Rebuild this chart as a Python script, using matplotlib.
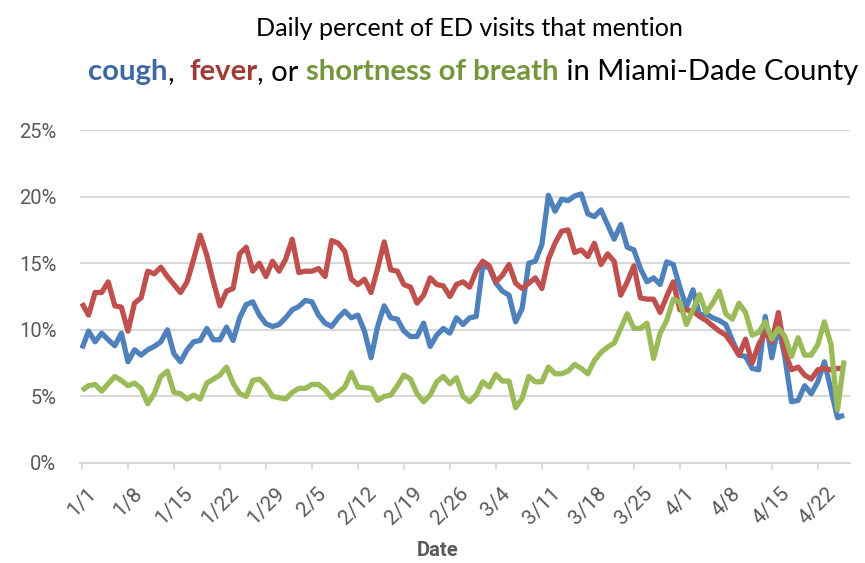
import matplotlib
matplotlib.use('Agg')
import matplotlib.pyplot as plt
import matplotlib.transforms as mtransforms

# ---- data (percent of ED visits), daily from 1/1 to 4/26 ----
cough = [8.6, 9.9, 9.1, 9.75, 9.25, 8.8, 9.75, 7.6, 8.5, 8.1, 8.5, 8.75, 9.1, 10.0, 8.2, 7.6, 8.5, 9.1, 9.2, 10.1,
         9.25, 9.25, 10.2, 9.2, 10.9, 11.9, 12.1, 11.1, 10.45,
         10.25, 10.4, 10.9, 11.5, 11.75, 12.2, 12.1, 11.1, 10.5, 10.25, 10.9, 11.4, 10.9, 11.1, 9.9, 7.9, 10.25,
         11.8, 10.9, 10.8, 9.9, 9.5, 9.5, 10.5, 8.75, 9.6, 10.1, 9.75, 10.9,
         10.4, 10.9, 11.0, 14.8, 14.65, 13.5, 12.9, 12.6, 10.6, 11.6, 15.0, 15.15, 16.4, 20.1, 18.9, 19.8, 19.7,
         20.05, 20.2, 18.7, 18.5, 19.0, 17.9, 16.8, 17.9, 16.2, 16.0,
         14.6, 13.6, 13.9, 13.4, 15.1, 14.9, 13.2, 11.7, 13.0, 11.1, 11.2, 10.9, 10.7, 10.4, 9.2, 8.1, 8.0, 7.1,
         7.0, 11.0, 7.9, 10.3, 7.9, 4.6, 4.7, 5.8, 5.2, 6.1, 7.6, 5.5, 3.4, 3.6]
fever = [12.0, 11.1, 12.8, 12.8, 13.6, 11.8, 11.7, 9.9, 12.0, 12.4, 14.4, 14.2, 14.7, 14.0, 13.4, 12.8, 13.6, 15.3,
         17.1, 15.6, 13.6, 11.8, 12.9, 13.1, 15.7, 16.2, 14.4, 15.0, 14.0,
         15.15, 14.4, 15.3, 16.8, 14.3, 14.4, 14.4, 14.6, 14.0, 16.7, 16.5, 15.9, 13.8, 13.4, 13.8, 12.8, 14.6,
         16.6, 14.5, 14.4, 13.4, 13.2, 12.0, 12.6, 13.9, 13.4, 13.3, 12.5, 13.4,
         13.6, 13.2, 14.4, 15.15, 14.8, 13.6, 14.1, 14.9, 13.5, 13.1, 13.5, 13.9, 13.1, 15.3, 16.5, 17.4, 17.5,
         15.8, 16.0, 15.5, 16.5, 14.9, 15.7, 15.15, 12.6, 13.6, 14.8, 12.4, 12.3,
         12.3, 11.3, 12.5, 13.6, 11.5, 11.5, 11.4, 11.0, 10.7, 10.3, 9.9, 9.6, 8.9, 8.1, 9.3, 7.5, 8.9, 9.8, 9.1,
         11.3, 8.3, 7.0, 7.2, 6.6, 6.3, 7.0, 7.1, 7.0, 7.1, 7.1]
breath = [5.45, 5.8, 5.9, 5.4, 5.95, 6.5, 6.2, 5.8, 6.0, 5.6, 4.45, 5.2, 6.5, 6.9, 5.3, 5.2, 4.8, 5.1, 4.8,
          6.0, 6.3, 6.6, 7.2, 6.0, 5.2, 5.0, 6.2, 6.3, 5.8, 5.0, 4.9, 4.8, 5.3, 5.6, 5.6, 5.9, 5.9, 5.5, 4.9,
          5.3, 5.7, 6.8, 5.7, 5.65, 5.6, 4.7, 5.0, 5.1, 5.8, 6.6, 6.3, 5.2, 4.6, 5.1, 6.1, 6.5, 5.95, 6.4,
          5.0, 4.6, 5.1, 6.1, 5.7, 6.65, 6.15, 6.15, 4.15, 4.85, 6.5, 6.1, 6.1, 7.2, 6.7, 6.7, 6.9, 7.4, 7.1, 6.7,
          7.7, 8.3, 8.7, 9.0, 10.1, 11.2, 10.1, 10.1, 10.5, 7.85, 9.75, 10.7, 12.3, 12.1, 10.4, 11.5, 12.65, 11.3,
          12.0, 12.9,
          11.2, 10.8, 12.0, 11.3, 9.6, 9.8, 10.6, 9.3, 10.1, 9.5, 8.0, 9.4, 8.1, 8.1, 8.9, 10.6, 8.9, 4.0, 7.7]

tick_labels = ['1/1', '1/8', '1/15', '1/22', '1/29', '2/5', '2/12', '2/19', '2/26',
               '3/4', '3/11', '3/18', '3/25', '4/1', '4/8', '4/15', '4/22']
y_ticks = [0, 5, 10, 15, 20, 25]

# ---- styling ----
C_BLUE, C_RED, C_GREEN = '#4f81bd', '#c0504d', '#9bbb59'
T_BLUE, T_RED, T_GREEN = '#3c68a3', '#a03a37', '#76963b'
GRAY_TXT = '#595959'
GRID = '#d9d9d9'
FONT = ['Roboto', 'DejaVu Sans']
TFONT = ['Lato', 'DejaVu Sans']

W, H = 865, 563
fig = plt.figure(figsize=(W / 100, H / 100), dpi=100)
ax = fig.add_axes([80 / W, 1 - 463 / H, (850 - 80) / W, (463 - 130) / H])

for series, col in ((cough, C_BLUE), (fever, C_RED), (breath, C_GREEN)):
    ax.plot(range(len(series)), series, color=col, lw=3.8, solid_joinstyle='round',
            solid_capstyle='butt', zorder=3)

ax.set_ylim(0, 25)
ax.set_xlim(-0.3, 116.9)
ax.set_yticks(y_ticks)
ax.set_yticklabels([f'{v}%' for v in y_ticks], fontsize=14.5, color=GRAY_TXT, family=FONT)
ax.yaxis.grid(True, color=GRID, lw=1.5, zorder=0)
ax.tick_params(axis='y', length=0, pad=17)

xt = [7 * i for i in range(len(tick_labels))]
ax.set_xticks(xt)
ax.set_xticklabels(tick_labels, rotation=45, ha='center', fontsize=15, color=GRAY_TXT, family=FONT)
offset = mtransforms.ScaledTranslation(-8 / 100, 0, fig.dpi_scale_trans)
for lab in ax.get_xticklabels():
    lab.set_transform(lab.get_transform() + offset)
ax.tick_params(axis='x', length=5, width=1.2, color=GRID, pad=10, direction='out')

for s in ('top', 'right', 'left'):
    ax.spines[s].set_visible(False)
ax.spines['bottom'].set_color(GRID)
ax.spines['bottom'].set_linewidth(1.5)
ax.set_axisbelow(True)

fig.text(438 / W, 1 - 551 / H, 'Date', ha='center', va='center', fontsize=14.5,
         fontweight='bold', color=GRAY_TXT, family=FONT)

# ---- title ----
fig.canvas.draw()
r = fig.canvas.get_renderer()

t1 = fig.text(469 / W, 1 - 28 / H, 'Daily percent of ED visits that mention', ha='center', va='center',
              fontsize=17, color='black', family=TFONT)
w1 = t1.get_window_extent(renderer=r).width
t1.set_fontsize(17 * 428 / w1)

pieces = [('cough', T_BLUE, 'bold'), (',  ', 'black', 'normal'), ('fever', T_RED, 'bold'),
          (', or ', 'black', 'normal'), ('shortness of breath', T_GREEN, 'bold'),
          (' in Miami-Dade County', 'black', 'normal')]
texts = []
for s, c, w in pieces:
    t = fig.text(0, 1 - 72 / H, s, ha='left', va='center', fontsize=17, color=c,
                 fontweight=w, family=TFONT)
    texts.append(t)
total = sum(t.get_window_extent(renderer=r).width for t in texts)
fs2 = 17 * 770 / total
for t in texts:
    t.set_fontsize(fs2)
widths = [t.get_window_extent(renderer=r).width for t in texts]
x0 = 473 - sum(widths) / 2
for t, wd in zip(texts, widths):
    t.set_x(x0 / W)
    x0 += wd

fig.savefig('out.png', dpi=100)
